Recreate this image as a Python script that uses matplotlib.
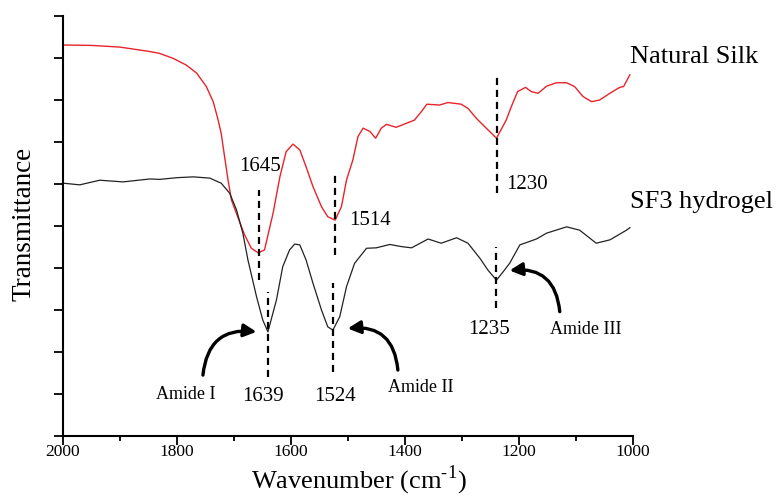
import numpy as np
import matplotlib
matplotlib.use("Agg")
import matplotlib.pyplot as plt
from matplotlib.ticker import MultipleLocator, NullFormatter

plt.rcParams["font.family"] = ["Liberation Serif", "DejaVu Serif"]
plt.rcParams["mathtext.fontset"] = "custom"
plt.rcParams["mathtext.rm"] = "Liberation Serif"

# Natural silk spectrum (red)
silk_wn = [2000, 1950, 1900, 1850, 1830, 1806, 1783, 1765, 1748, 1736, 1728,
           1722, 1716, 1710, 1704, 1693, 1681, 1669, 1657, 1646, 1631, 1619,
           1608, 1596, 1584, 1573, 1561, 1546, 1535, 1522, 1511, 1502, 1491,
           1482, 1473, 1461, 1451, 1441, 1432, 1415, 1400, 1383, 1371, 1361,
           1339, 1324, 1301, 1289, 1274, 1257, 1239, 1222, 1213, 1202, 1188,
           1178, 1166, 1151, 1134, 1116, 1102, 1087, 1072, 1058, 1040, 1023,
           1016, 1005]
silk_t = [9.31, 9.30, 9.26, 9.16, 9.11, 8.99, 8.83, 8.64, 8.32, 7.96, 7.56,
          7.21, 6.65, 6.10, 5.62, 5.22, 4.79, 4.47, 4.36, 4.43, 5.30, 6.17,
          6.77, 6.95, 6.81, 6.41, 5.94, 5.46, 5.22, 5.14, 5.46, 6.10, 6.57,
          7.13, 7.33, 7.25, 7.09, 7.33, 7.42, 7.35, 7.43, 7.52, 7.72, 7.90,
          7.88, 7.94, 7.90, 7.80, 7.56, 7.33, 7.09, 7.52, 7.84, 8.20, 8.30,
          8.20, 8.16, 8.33, 8.41, 8.41, 8.32, 8.08, 7.96, 8.00, 8.16, 8.30,
          8.32, 8.60]

# SF3 hydrogel spectrum (black)
gel_wn = [2000, 1970, 1935, 1894, 1847, 1830, 1800, 1771, 1742, 1722, 1707,
          1695, 1684, 1675, 1660, 1649, 1640, 1625, 1614, 1602, 1593, 1584,
          1573, 1561, 1546, 1535, 1526, 1514, 1502, 1488, 1467, 1450, 1426,
          1406, 1388, 1359, 1336, 1309, 1289, 1268, 1254, 1239, 1225, 1216,
          1198, 1169, 1151, 1116, 1093, 1064, 1040, 1011, 1005]
gel_t = [6.02, 5.98, 6.09, 6.05, 6.12, 6.11, 6.15, 6.17, 6.14, 6.02, 5.78,
         5.38, 4.83, 4.19, 3.32, 2.76, 2.48, 3.24, 4.03, 4.43, 4.57, 4.55,
         4.19, 3.64, 3.00, 2.60, 2.52, 2.84, 3.56, 4.11, 4.47, 4.48, 4.56,
         4.51, 4.48, 4.69, 4.59, 4.72, 4.59, 4.23, 3.95, 3.71, 3.95, 4.11,
         4.55, 4.69, 4.83, 4.98, 4.90, 4.59, 4.67, 4.90, 4.96]

# peak markers: dashed line x, y range, label text and label position
peak_x = [1655.6, 1521.6, 1237.4, 1640, 1525.8, 1239]
peak_y0 = [3.71, 4.31, 5.78, 1.41, 1.53, 3.04]
peak_y1 = [5.86, 6.29, 8.56, 3.44, 3.64, 4.51]
peak_txt = ["1645", "1514", "1230", "1639", "1524", "1235"]
peak_tx = [1654, 1460, 1185, 1649, 1523, 1252]
peak_ty = [6.41, 5.14, 5.98, 0.94, 0.94, 2.54]

# amide band arrows: text position, arrow tail, arrow head, curvature
amide_txt = ["Amide I", "Amide II", "Amide III"]
amide_pos = [(1784, 0.98), (1372, 1.16), (1083, 2.54)]
amide_tail = [(1754, 1.45), (1412, 1.57), (1128, 2.96)]
amide_head = [(1660, 2.48), (1500, 2.56), (1216, 3.94)]
amide_rad = [-0.5, 0.5, 0.5]

fig = plt.figure(figsize=(7.77, 5.03), dpi=100)
ax = fig.add_axes([0.0807, 0.1332, 0.7336, 0.835])

ax.plot(silk_wn, silk_t, color="#e8232a", lw=1.0)
ax.plot(gel_wn, gel_t, color="#222222", lw=0.9)

for x, y0, y1 in zip(peak_x, peak_y0, peak_y1):
    ax.plot([x, x], [y0, y1], color="black", lw=1.6, ls=(0, (3.2, 2.2)))

for t, x, y in zip(peak_txt, peak_tx, peak_ty):
    ax.text(x, y, t, fontsize=15, ha="center", va="center")

for t, p, tail, head, r in zip(amide_txt, amide_pos, amide_tail, amide_head, amide_rad):
    ax.text(p[0], p[1], t, fontsize=13, ha="center", va="center")
    ax.annotate("", xy=head, xytext=tail,
                arrowprops=dict(arrowstyle="-|>,head_length=0.75,head_width=0.38",
                                connectionstyle=f"arc3,rad={r}",
                                color="black", lw=2.4, shrinkA=0, shrinkB=0))

ax.text(1005, 9.03, "Natural Silk", fontsize=19, ha="left", va="center", clip_on=False)
ax.text(1005, 5.58, "SF3 hydrogel", fontsize=19, ha="left", va="center", clip_on=False)

ax.set_xlim(2000, 1000)
ax.set_ylim(0, 10)
ax.xaxis.set_major_locator(MultipleLocator(200))
ax.xaxis.set_minor_locator(MultipleLocator(100))
ax.yaxis.set_major_locator(MultipleLocator(1))
ax.yaxis.set_major_formatter(NullFormatter())
ax.tick_params(axis="x", which="major", direction="out", length=6.5, width=1.3,
               labelsize=12.5, pad=-1)
ax.tick_params(axis="x", which="minor", direction="out", length=3.5, width=1.3)
ax.tick_params(axis="y", direction="out", length=6.5, width=1.3)

for s in ("top", "right"):
    ax.spines[s].set_visible(False)
for s in ("left", "bottom"):
    ax.spines[s].set_linewidth(1.5)

fig.text(0.031, 0.5557, "Transmittance", fontsize=19.5, rotation=90,
         ha="center", va="center")
fig.text(0.462, 0.012, "Wavenumber (cm$^{\\mathregular{\u2010}1}$)", fontsize=19,
         ha="center", va="bottom")

fig.savefig("out.png", dpi=100)
